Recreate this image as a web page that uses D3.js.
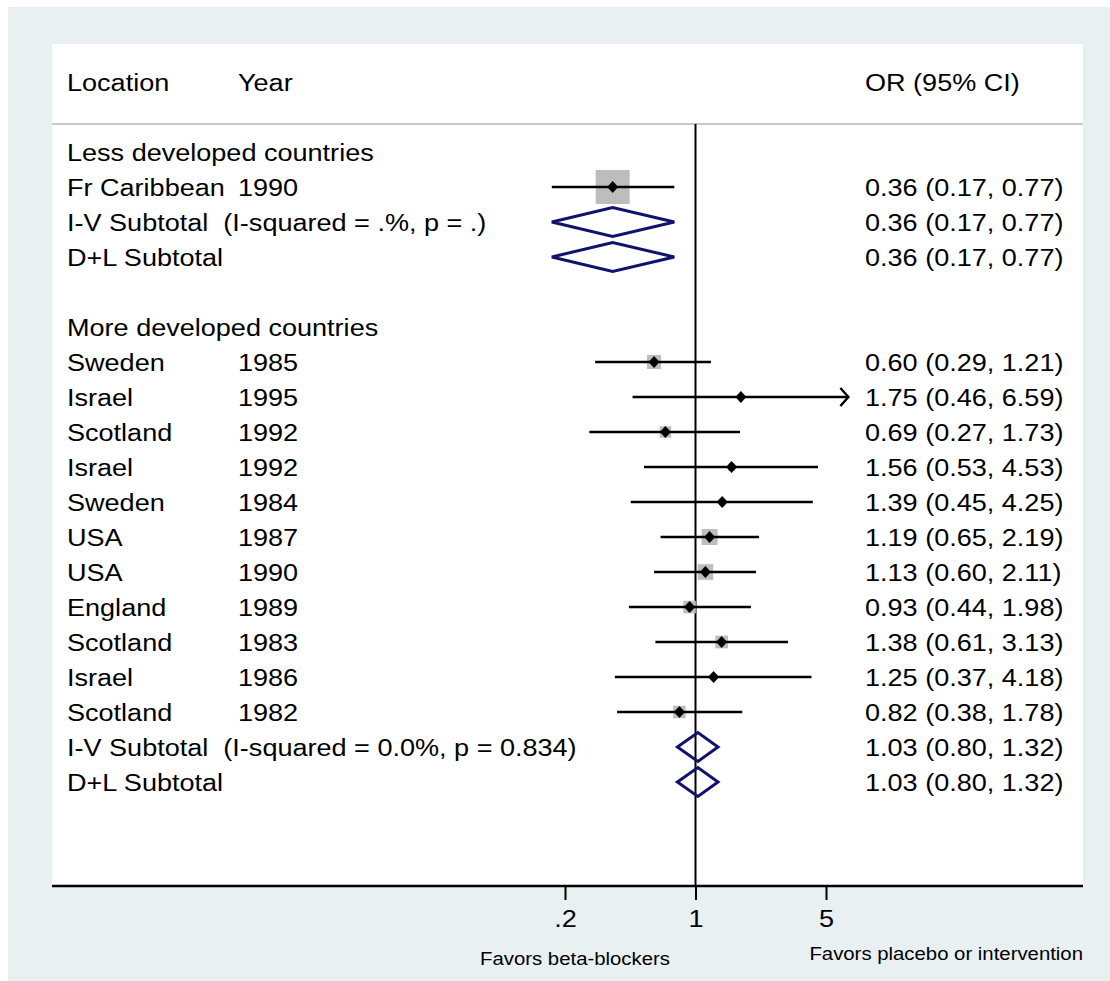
<!DOCTYPE html>
<html>
<head>
<meta charset="utf-8">
<script src="https://cdn.jsdelivr.net/npm/d3@7"></script>
<style>
  html, body { margin: 0; padding: 0; background: #ffffff; }
  svg { display: block; }
  text { font-family: "Liberation Sans", Arial, Helvetica, sans-serif; fill: #000; white-space: pre; }
</style>
</head>
<body>
<svg id="chart" width="1110" height="981"></svg>
<script>
// ---------------- data ----------------
const groupNames = ["Less developed countries", "More developed countries"];
const studyGroup = [0, 1, 1, 1, 1, 1, 1, 1, 1, 1, 1, 1];
const locations = ["Fr Caribbean", "Sweden", "Israel", "Scotland", "Israel", "Sweden", "USA", "USA", "England", "Scotland", "Israel", "Scotland"];
const years = [1990, 1985, 1995, 1992, 1992, 1984, 1987, 1990, 1989, 1983, 1986, 1982];
const orValues = [0.36, 0.60, 1.75, 0.69, 1.56, 1.39, 1.19, 1.13, 0.93, 1.38, 1.25, 0.82];
const ciLow = [0.17, 0.29, 0.46, 0.27, 0.53, 0.45, 0.65, 0.60, 0.44, 0.61, 0.37, 0.38];
const ciHigh = [0.77, 1.21, 6.59, 1.73, 4.53, 4.25, 2.19, 2.11, 1.98, 3.13, 4.18, 1.78];
const weights = [100, 17, 3, 11.5, 4.5, 4, 22, 21, 13.5, 14, 3.5, 13.5];

const ivLabels = ["I-V Subtotal  (I-squared = .%, p = .)", "I-V Subtotal  (I-squared = 0.0%, p = 0.834)"];
const dlLabels = ["D+L Subtotal", "D+L Subtotal"];
const subOR = [0.36, 1.03];
const subLow = [0.17, 0.80];
const subHigh = [0.77, 1.32];

const tickValues = [0.2, 1, 5];
const tickLabels = [".2", "1", "5"];
const headers = { location: "Location", year: "Year", ci: "OR (95% CI)" };
const favorsLeft = "Favors beta-blockers";
const favorsRight = "Favors placebo or intervention";
const axisMax = 5;

// ---------------- layout ----------------
const svg = d3.select("#chart");
const SX = 1.1;             // horizontal stretch of glyphs
const FS = 24.6;            // main font size
const FS_SMALL = 18.5;
const plot = { left: 52, right: 1083, top: 44, bottom: 886 };

const x = d3.scaleLog().domain([0.2, 5]).range([565, 826]);
const fmt = d3.format(".2f");
const ciText = (o, l, h) => `${fmt(o)} (${fmt(l)}, ${fmt(h)})`;

// build rows
const rows = [];
groupNames.forEach((g, gi) => {
  if (gi > 0) rows.push({ type: "blank" });
  rows.push({ type: "group", label: g });
  studyGroup.forEach((sg, i) => {
    if (sg === gi) rows.push({ type: "study", i });
  });
  rows.push({ type: "iv", gi });
  rows.push({ type: "dl", gi });
});
const y = d3.scaleLinear().domain([0, rows.length - 1]).range([152, 782]);

// backgrounds
svg.append("rect").attr("x", 8).attr("y", 7).attr("width", 1110 - 8).attr("height", 981 - 7).attr("fill", "#e8f0f2");
svg.append("rect").attr("x", plot.left).attr("y", plot.top)
  .attr("width", plot.right - plot.left).attr("height", plot.bottom - plot.top).attr("fill", "#ffffff");

function addText(g, tx, ty, str, size, anchor) {
  return g.append("text")
    .attr("transform", `translate(${tx},${ty}) scale(${SX},1)`)
    .attr("font-size", size)
    .attr("text-anchor", anchor || "start")
    .attr("xml:space", "preserve")
    .text(str);
}
const BASE = FS * 0.358; // baseline offset from row center

// header
const gText = svg.append("g");
addText(gText, 67, 82.5 + BASE, headers.location, FS);
addText(gText, 238, 82.5 + BASE, headers.year, FS);
addText(gText, 865, 82.5 + BASE, headers.ci, FS);
svg.append("line").attr("x1", plot.left).attr("x2", plot.right).attr("y1", 124).attr("y2", 124)
  .attr("stroke", "#c8c8c8").attr("stroke-width", 2);

// null line
svg.append("line").attr("x1", x(1)).attr("x2", x(1)).attr("y1", 124).attr("y2", plot.bottom)
  .attr("stroke", "#000").attr("stroke-width", 2);

const box = d3.scaleSqrt().domain([0, 100]).range([0, 34]);
const gMarks = svg.append("g");

rows.forEach((r, ri) => {
  const cy = y(ri);
  if (r.type === "group") {
    addText(gText, 67, cy + BASE, r.label, FS);
  } else if (r.type === "study") {
    const i = r.i;
    addText(gText, 67, cy + BASE, locations[i], FS);
    addText(gText, 238, cy + BASE, String(years[i]), FS);
    addText(gText, 865, cy + BASE, ciText(orValues[i], ciLow[i], ciHigh[i]), FS);
    const s = box(weights[i]);
    gMarks.append("rect").attr("x", x(orValues[i]) - s / 2).attr("y", cy - s / 2)
      .attr("width", s).attr("height", s).attr("fill", "#bdbdbd");
    gMarks.append("line").attr("x1", x(ciLow[i])).attr("x2", x(ciHigh[i]))
      .attr("y1", cy).attr("y2", cy).attr("stroke", "#000").attr("stroke-width", 2.6);
    if (ciHigh[i] > axisMax) {
      const tx = x(ciHigh[i]);
      gMarks.append("path").attr("d", `M${tx - 8},${cy - 9}L${tx},${cy}L${tx - 8},${cy + 9}`)
        .attr("fill", "none").attr("stroke", "#000").attr("stroke-width", 2.4);
    }
    const px = x(orValues[i]);
    gMarks.append("path").attr("d", `M${px},${cy - 6}L${px + 5.5},${cy}L${px},${cy + 6}L${px - 5.5},${cy}Z`)
      .attr("fill", "#000");
  } else if (r.type === "iv" || r.type === "dl") {
    const gi = r.gi;
    addText(gText, 67, cy + BASE, r.type === "iv" ? ivLabels[gi] : dlLabels[gi], FS);
    addText(gText, 865, cy + BASE, ciText(subOR[gi], subLow[gi], subHigh[gi]), FS);
    const l = x(subLow[gi]), m = x(subOR[gi]), h = x(subHigh[gi]);
    gMarks.append("path").attr("d", `M${l},${cy}L${m},${cy - 14.5}L${h},${cy}L${m},${cy + 14.5}Z`)
      .attr("fill", "#fff").attr("fill-opacity", 0).attr("stroke", "#12126e").attr("stroke-width", 3)
      .attr("stroke-linejoin", "miter");
  }
});

// bottom axis
svg.append("line").attr("x1", plot.left).attr("x2", plot.right).attr("y1", plot.bottom).attr("y2", plot.bottom)
  .attr("stroke", "#000").attr("stroke-width", 2.4);
const axis = d3.axisBottom(x).tickValues(tickValues)
  .tickFormat((d, i) => tickLabels[i]).tickSize(14).tickSizeOuter(0);
const gAxis = svg.append("g").attr("transform", `translate(0,${plot.bottom})`).call(axis);
gAxis.select(".domain").remove();
gAxis.selectAll(".tick line").attr("stroke", "#000").attr("stroke-width", 2);
gAxis.selectAll(".tick text")
  .attr("y", 41).attr("dy", null).attr("x", 0)
  .attr("transform", `scale(${SX},1)`)
  .attr("font-size", FS).attr("fill", "#000")
  .style("font-family", '"Liberation Sans", Arial, Helvetica, sans-serif');

// favors labels
addText(svg, 575, 958 + FS_SMALL * 0.358, favorsLeft, FS_SMALL, "middle");
addText(svg, 1083, 953 + FS_SMALL * 0.358, favorsRight, FS_SMALL, "end");
</script>
</body>
</html>
